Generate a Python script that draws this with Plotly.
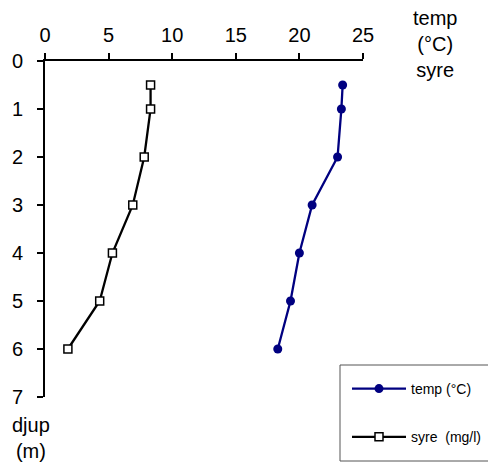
import plotly.graph_objects as go

depth = [0.5, 1, 2, 3, 4, 5, 6]
temp = [23.4, 23.3, 23.0, 21.0, 20.0, 19.3, 18.3]
syre = [8.3, 8.3, 7.8, 6.9, 5.3, 4.3, 1.8]

W, H = 488, 464
L, R, T, B = 45, 125, 61, 67
pw, ph = W - L - R, H - T - B

def px(x):
    return (x - L) / pw

def py(y):
    return (H - B - y) / ph

fig = go.Figure()
fig.add_trace(go.Scatter(
    x=temp, y=depth, mode="lines+markers", name="temp (°C)",
    legendgroup="a",
    line=dict(color="#000080", width=2.3),
    marker=dict(symbol="circle", size=9, color="#000080"),
))
fig.add_trace(go.Scatter(
    x=syre, y=depth, mode="lines+markers", name="syre  (mg/l)",
    legendgroup="b",
    line=dict(color="black", width=2.3),
    marker=dict(symbol="square", size=8, color="white", line=dict(color="black", width=1.5)),
))

axis_font = dict(family="Liberation Sans, Arial", size=20, color="black")
fig.update_layout(
    width=W, height=H,
    margin=dict(l=L, r=R, t=T, b=B, autoexpand=False),
    plot_bgcolor="white", paper_bgcolor="white",
    font=dict(family="Liberation Sans, Arial", color="black"),
    xaxis=dict(range=[0, 25], dtick=5, side="top", showline=True, linecolor="black", linewidth=2,
               ticks="outside", ticklen=6, tickwidth=2, tickcolor="black", showgrid=False,
               zeroline=False, tickfont=axis_font, ticklabelstandoff=3),
    yaxis=dict(range=[7, 0], dtick=1, showline=True, linecolor="black", linewidth=2,
               ticks="outside", ticklen=6, tickwidth=2, tickcolor="black", showgrid=False,
               zeroline=False, tickfont=axis_font, ticklabelstandoff=10),
    legend=dict(xref="container", yref="container", x=347 / W, y=1 - 373 / H,
                xanchor="left", yanchor="top",
                font=dict(size=14, family="Liberation Sans, Arial"),
                bgcolor="rgba(0,0,0,0)", borderwidth=0,
                traceorder="grouped", tracegroupgap=27, itemwidth=54),
    shapes=[dict(type="rect", xref="paper", yref="paper",
                 x0=px(340), x1=px(492), y0=py(461), y1=py(365),
                 line=dict(color="#555555", width=1), fillcolor="rgba(0,0,0,0)")],
    annotations=[
        dict(text="temp<br>(°C)<br>syre", xref="paper", yref="paper", x=px(435), y=py(44),
             xanchor="center", yanchor="middle", showarrow=False, align="center",
             font=dict(size=20)),
        dict(text="djup<br>(m)", xref="paper", yref="paper", x=px(31), y=py(438),
             xanchor="center", yanchor="middle", showarrow=False, align="center",
             font=dict(size=20)),
    ],
)

fig.write_html("out.html")
